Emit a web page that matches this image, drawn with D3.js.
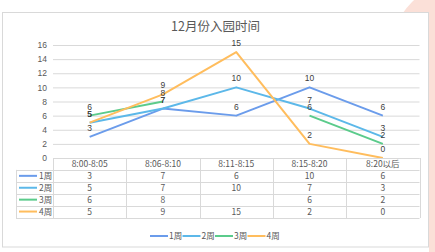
<!DOCTYPE html>
<html>
<head>
<meta charset="utf-8">
<script src="https://cdn.jsdelivr.net/npm/d3@7"></script>
<style>
  body { margin: 0; background: #fff; overflow: hidden; }
  svg { display: block; font-family: "Noto Sans CJK SC", "Liberation Sans", sans-serif; }
</style>
</head>
<body>
<script>
const width = 435,
  height = 252;

// data
const categories = ["8:00-8:05", "8:06-8:10", "8:11-8:15", "8:15-8:20", "8:20以后"];
const seriesNames = ["1周", "2周", "3周", "4周"];
const week1 = [3, 7, 6, 10, 6];
const week2 = [5, 7, 10, 7, 3];
const week3 = [6, 8, null, 6, 2];
const week4 = [5, 9, 15, 2, 0];
const yTicks = [0, 2, 4, 6, 8, 10, 12, 14, 16];
const colors = ["#6b9ceb", "#5cb8e9", "#5bcb8b", "#ffbd5d"];

const series = [week1, week2, week3, week4].map((values, i) => ({
  name: seriesNames[i],
  color: colors[i],
  values: values
}));

const plot = { left: 53, right: 419.5, top: 45, bottom: 158 };
const rowH = 11.9;
const textColor = "#595959";
const gridColor = "#d9d9d9";

const svg = d3
  .select("body")
  .append("svg")
  .attr("width", width)
  .attr("height", height);

// pink page decoration behind the panel
svg.append("circle")
  .attr("cx", 470).attr("cy", 60).attr("r", 82)
  .attr("fill", "#fbe0d8");
svg.append("rect")
  .attr("x", 429).attr("y", 0).attr("width", 6).attr("height", height)
  .attr("fill", "#fbe0d8");

// chart panel
svg.append("rect")
  .attr("x", 2.5).attr("y", 12.5)
  .attr("width", 426).attr("height", 234.5)
  .attr("fill", "#fff")
  .attr("stroke", "#d9d9d9");

const xScale = d3
  .scaleBand()
  .domain(categories)
  .range([plot.left, plot.right]);

const yScale = d3
  .scaleLinear()
  .domain([0, 16])
  .range([plot.bottom, plot.top]);

// y axis with gridlines
const yAxis = d3.axisLeft(yScale)
  .tickValues(yTicks)
  .tickSize(-(plot.right - plot.left))
  .tickPadding(6);

const yG = svg.append("g")
  .attr("transform", `translate(${plot.left},0)`)
  .call(yAxis);
yG.select(".domain").remove();
yG.selectAll(".tick line").attr("stroke", gridColor);
yG.selectAll(".tick text")
  .attr("fill", textColor)
  .attr("font-size", 8.5)
  .attr("font-family", "Liberation Sans, sans-serif");

// title
svg.append("text")
  .attr("x", 215.5)
  .attr("y", 31)
  .attr("text-anchor", "middle")
  .attr("font-size", 12.5)
  .attr("fill", textColor)
  .text("12月份入园时间");

// lines
const line = d3.line()
  .defined(d => d != null)
  .x((d, i) => xScale(categories[i]) + xScale.bandwidth() / 2)
  .y(d => yScale(d));

svg.append("g")
  .selectAll("path")
  .data(series)
  .enter()
  .append("path")
  .attr("d", d => line(d.values))
  .attr("fill", "none")
  .attr("stroke", d => d.color)
  .attr("stroke-width", 2)
  .attr("stroke-linejoin", "round");

// data labels
series.forEach(s => {
  svg.append("g")
    .selectAll("text")
    .data(s.values.map((v, i) => ({ v, i })).filter(d => d.v != null))
    .enter()
    .append("text")
    .attr("x", d => xScale(categories[d.i]) + xScale.bandwidth() / 2)
    .attr("y", d => yScale(d.v) - 6)
    .attr("text-anchor", "middle")
    .attr("font-size", 8.5)
    .attr("font-family", "Liberation Sans, sans-serif")
    .attr("fill", "#404040")
    .text(d => d.v);
});

// data table
const table = svg.append("g").attr("class", "table");
const tableLeft = 16;
const tableBottom = plot.bottom + rowH * 5;

// horizontal lines
table.append("line")
  .attr("x1", plot.left).attr("x2", plot.right)
  .attr("y1", plot.bottom + 0.5).attr("y2", plot.bottom + 0.5);
for (let r = 1; r <= 5; r++) {
  const y = Math.round(plot.bottom + rowH * r) + 0.5;
  table.append("line")
    .attr("x1", tableLeft).attr("x2", plot.right)
    .attr("y1", y).attr("y2", y);
}
// vertical lines
table.append("line")
  .attr("x1", tableLeft + 0.5).attr("x2", tableLeft + 0.5)
  .attr("y1", plot.bottom + rowH).attr("y2", tableBottom + 0.5);
categories.concat([null]).forEach((c, i) => {
  const x = Math.round(c ? xScale(c) : plot.right) + 0.5;
  table.append("line")
    .attr("x1", x).attr("x2", x)
    .attr("y1", plot.bottom).attr("y2", tableBottom + 0.5);
});
table.selectAll("line").attr("stroke", gridColor).attr("stroke-width", 1);

// header text
table.selectAll("text.head")
  .data(categories)
  .enter()
  .append("text")
  .attr("class", "head")
  .attr("x", d => xScale(d) + xScale.bandwidth() / 2)
  .attr("y", plot.bottom + rowH / 2 + 3)
  .attr("text-anchor", "middle")
  .attr("font-size", 8.5)
  .attr("fill", textColor)
  .text(d => d);

// rows
series.forEach((s, r) => {
  const yMid = plot.bottom + rowH * (r + 1) + rowH / 2;
  table.append("line")
    .attr("x1", tableLeft + 3).attr("x2", tableLeft + 21)
    .attr("y1", yMid).attr("y2", yMid)
    .attr("stroke", s.color)
    .attr("stroke-width", 2);
  table.append("text")
    .attr("x", tableLeft + 23)
    .attr("y", yMid + 3)
    .attr("font-size", 8.5)
    .attr("fill", textColor)
    .text(s.name);
  s.values.forEach((v, i) => {
    if (v == null) return;
    table.append("text")
      .attr("x", xScale(categories[i]) + xScale.bandwidth() / 2)
      .attr("y", yMid + 3)
      .attr("text-anchor", "middle")
      .attr("font-size", 8.5)
      .attr("fill", textColor)
      .text(v);
  });
});

// legend
const legend = svg.append("g")
  .attr("transform", "translate(150,236)")
  .selectAll("g")
  .data(series)
  .enter()
  .append("g")
  .attr("transform", (d, i) => `translate(${i * 32.5},0)`);

legend.append("line")
  .attr("x1", 0).attr("x2", 18)
  .attr("y1", 0).attr("y2", 0)
  .attr("stroke", d => d.color)
  .attr("stroke-width", 2);

legend.append("text")
  .attr("x", 19)
  .attr("y", 3)
  .attr("font-size", 8.5)
  .attr("fill", textColor)
  .text(d => d.name);
</script>
</body>
</html>
